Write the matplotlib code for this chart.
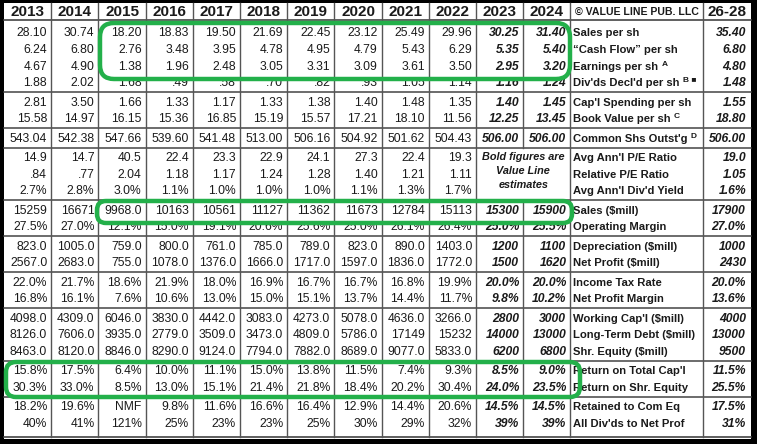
import matplotlib
matplotlib.use("Agg")
from matplotlib import pyplot as plt
from matplotlib.patches import FancyBboxPatch

plt.rcParams["font.family"] = ["Liberation Sans", "DejaVu Sans"]

years = ["2013", "2014", "2015", "2016", "2017", "2018",
         "2019", "2020", "2021", "2022", "2023", "2024"]
proj_head = "26-28"

labels = ["Sales per sh", "\u201cCash Flow\u201d per sh", "Earnings per sh",
          "Div'ds Decl'd per sh", "Cap'l Spending per sh", "Book Value per sh",
          "Common Shs Outst'g", "Avg Ann'l P/E Ratio", "Relative P/E Ratio",
          "Avg Ann'l Div'd Yield", "Sales ($mill)", "Operating Margin",
          "Depreciation ($mill)", "Net Profit ($mill)", "Income Tax Rate",
          "Net Profit Margin", "Working Cap'l ($mill)", "Long-Term Debt ($mill)",
          "Shr. Equity ($mill)", "Return on Total Cap'l", "Return on Shr. Equity",
          "Retained to Com Eq", "All Div'ds to Net Prof"]
footnotes = {2: "A", 3: "B \u25a0", 5: "C", 6: "D"}

sales_sh = ["28.10", "30.74", "18.20", "18.83", "19.50", "21.69", "22.45", "23.12", "25.49", "29.96", "30.25", "31.40"]
cash_flow = ["6.24", "6.80", "2.76", "3.48", "3.95", "4.78", "4.95", "4.79", "5.43", "6.29", "5.35", "5.40"]
earnings = ["4.67", "4.90", "1.38", "1.96", "2.48", "3.05", "3.31", "3.09", "3.61", "3.50", "2.95", "3.20"]
divs = ["1.88", "2.02", "1.68", ".49", ".58", ".70", ".82", ".93", "1.05", "1.14", "1.16", "1.24"]
cap_spend = ["2.81", "3.50", "1.66", "1.33", "1.17", "1.33", "1.38", "1.40", "1.48", "1.35", "1.40", "1.45"]
book_value = ["15.58", "14.97", "16.15", "15.36", "16.85", "15.19", "15.57", "17.21", "18.10", "11.56", "12.25", "13.45"]
shares = ["543.04", "542.38", "547.66", "539.60", "541.48", "513.00", "506.16", "504.92", "501.62", "504.43", "506.00", "506.00"]
pe_ratio = ["14.9", "14.7", "40.5", "22.4", "23.3", "22.9", "24.1", "27.3", "22.4", "19.3", "", ""]
rel_pe = [".84", ".77", "2.04", "1.18", "1.17", "1.24", "1.28", "1.40", "1.21", "1.11", "", ""]
div_yield = ["2.7%", "2.8%", "3.0%", "1.1%", "1.0%", "1.0%", "1.0%", "1.1%", "1.3%", "1.7%", "", ""]
sales_mill = ["15259", "16671", "9968.0", "10163", "10561", "11127", "11362", "11673", "12784", "15113", "15300", "15900"]
op_margin = ["27.5%", "27.0%", "12.1%", "15.0%", "19.1%", "20.6%", "25.6%", "25.0%", "26.1%", "26.4%", "25.0%", "25.5%"]
depreciation = ["823.0", "1005.0", "759.0", "800.0", "761.0", "785.0", "789.0", "823.0", "890.0", "1403.0", "1200", "1100"]
net_profit = ["2567.0", "2683.0", "755.0", "1078.0", "1376.0", "1666.0", "1717.0", "1597.0", "1836.0", "1772.0", "1500", "1620"]
tax_rate = ["22.0%", "21.7%", "18.6%", "21.9%", "18.0%", "16.9%", "16.7%", "16.7%", "16.8%", "19.9%", "20.0%", "20.0%"]
np_margin = ["16.8%", "16.1%", "7.6%", "10.6%", "13.0%", "15.0%", "15.1%", "13.7%", "14.4%", "11.7%", "9.8%", "10.2%"]
working_cap = ["4098.0", "4309.0", "6046.0", "3830.0", "4442.0", "3083.0", "4273.0", "5078.0", "4636.0", "3266.0", "2800", "3000"]
lt_debt = ["8126.0", "7606.0", "3935.0", "2779.0", "3509.0", "3473.0", "4809.0", "5786.0", "17149", "15232", "14000", "13000"]
shr_equity = ["8463.0", "8120.0", "8846.0", "8290.0", "9124.0", "7794.0", "7882.0", "8689.0", "9077.0", "5833.0", "6200", "6800"]
ret_total_cap = ["15.8%", "17.5%", "6.4%", "10.0%", "11.1%", "15.0%", "13.8%", "11.5%", "7.4%", "9.3%", "8.5%", "9.0%"]
ret_equity = ["30.3%", "33.0%", "8.5%", "13.0%", "15.1%", "21.4%", "21.8%", "18.4%", "20.2%", "30.4%", "24.0%", "23.5%"]
retained = ["18.2%", "19.6%", "NMF", "9.8%", "11.6%", "16.6%", "16.4%", "12.9%", "14.4%", "20.6%", "14.5%", "14.5%"]
all_divs = ["40%", "41%", "121%", "25%", "23%", "23%", "25%", "30%", "29%", "32%", "39%", "39%"]

proj = ["35.40", "6.80", "4.80", "1.48", "1.55", "18.80", "506.00", "19.0", "1.05",
        "1.6%", "17900", "27.0%", "1000", "2430", "20.0%", "13.6%", "4000", "13000",
        "9500", "11.5%", "25.5%", "17.5%", "31%"]

rows = [sales_sh, cash_flow, earnings, divs, cap_spend, book_value, shares,
        pe_ratio, rel_pe, div_yield, sales_mill, op_margin, depreciation,
        net_profit, tax_rate, np_margin, working_cap, lt_debt, shr_equity,
        ret_total_cap, ret_equity, retained, all_divs]

# layout (pixels, y downwards)
W, H = 757, 444
x_left, col_w = 4, 47.2
x_lab = x_left + col_w * len(years)
x_proj, x_right = 703, 751
y_top, y_head = 3, 20.5
y0, pitch, gap = 33, 16.6, 2.8
breaks = [3, 5, 6, 9, 11, 13, 15, 18, 20]
y_bottom = 437
ink = "#1a1a1a"
green = "#23b04a"
num_fs, lab_fs = 8.7, 8.1

row_y = []
n_gap = 0
for i in range(len(rows)):
    row_y.append(y0 + i * pitch + n_gap * gap)
    if i in breaks:
        n_gap += 1

fig = plt.figure(figsize=(W / 100, H / 100), dpi=100)
ax = fig.add_axes([0, 0, 1, 1])
ax.set_xlim(0, W)
ax.set_ylim(H, 0)
ax.axis("off")

# black scan borders
ax.axhspan(0, y_top, color="black", lw=0)
ax.axhspan(y_bottom + 2, H, color="black", lw=0)
ax.axvspan(0, x_left, color="black", lw=0)
ax.axvspan(x_right, W, color="black", lw=0)

# grid lines
ax.plot([x_left, x_right], [y_head, y_head], color="#444", lw=1.2)
for b in breaks:
    yb = (row_y[b] + row_y[b + 1]) / 2 - 0.3
    ax.plot([x_left, x_right], [yb, yb], color="#444", lw=1.1)
ax.plot([x_left, x_right], [y_bottom, y_bottom], color="#444", lw=1.2)

vlines = [x_left + col_w * k for k in range(1, len(years) + 1)] + [x_proj]
pe_top = (row_y[6] + row_y[7]) / 2
pe_bot = (row_y[9] + row_y[10]) / 2
for k, xv in enumerate(vlines):
    if k == 10:
        ax.plot([xv, xv], [y_top, pe_top], color="#555", lw=1.0)
        ax.plot([xv, xv], [pe_bot, y_bottom], color="#555", lw=1.0)
    else:
        ax.plot([xv, xv], [y_top, y_bottom], color="#555", lw=1.0)

# header
for k, yr in enumerate(years):
    ax.text(x_left + col_w * (k + 0.5), 11.5, yr, ha="center", va="center",
            fontsize=11, fontweight="bold", color=ink)
ax.text((x_lab + x_proj) / 2, 11.5, "\u00a9 VALUE LINE PUB. LLC", ha="center",
        va="center", fontsize=7.6, fontweight="bold", color=ink)
ax.text((x_proj + x_right) / 2, 11.5, proj_head, ha="center", va="center",
        fontsize=11, fontweight="bold", color=ink)

# body
for i, vals in enumerate(rows):
    y = row_y[i]
    for k, v in enumerate(vals):
        est = k >= 10
        ax.text(x_left + col_w * (k + 1) - 4, y + 0.5, v, ha="right", va="center",
                fontsize=num_fs, color=ink,
                fontweight="bold" if est else "normal",
                fontstyle="italic" if est else "normal")
    t = ax.text(x_lab + 3, y + 0.5, labels[i], ha="left", va="center",
                fontsize=lab_fs, fontweight="bold", color=ink)
    if i in footnotes:
        fig.canvas.draw()
        bb = t.get_window_extent().transformed(ax.transData.inverted())
        ax.text(bb.x1 + 3, y - 2, footnotes[i], ha="left", va="center",
                fontsize=6, fontweight="bold", color=ink)
    ax.text(x_right - 5, y + 0.5, proj[i], ha="right", va="center",
            fontsize=num_fs, fontweight="bold", fontstyle="italic", color=ink)

note = ["Bold figures are", "Value Line", "estimates"]
x_note = x_left + col_w * 11
for j, s in enumerate(note):
    ax.text(x_note, row_y[7] + j * 14 - 1, s, ha="center", va="center",
            fontsize=7.8, fontweight="bold", fontstyle="italic", color=ink)

# green highlight marks
marks = [(100, 23, 470, 56, 14), (97, 201, 475, 22, 9), (6, 362, 574, 35, 10)]
for x, y, w, h, r in marks:
    ax.add_patch(FancyBboxPatch((x, y), w, h, boxstyle=f"round,pad=0,rounding_size={r}",
                                fill=False, ec=green, lw=3.2, zorder=5))

fig.savefig("out.png", dpi=100)
